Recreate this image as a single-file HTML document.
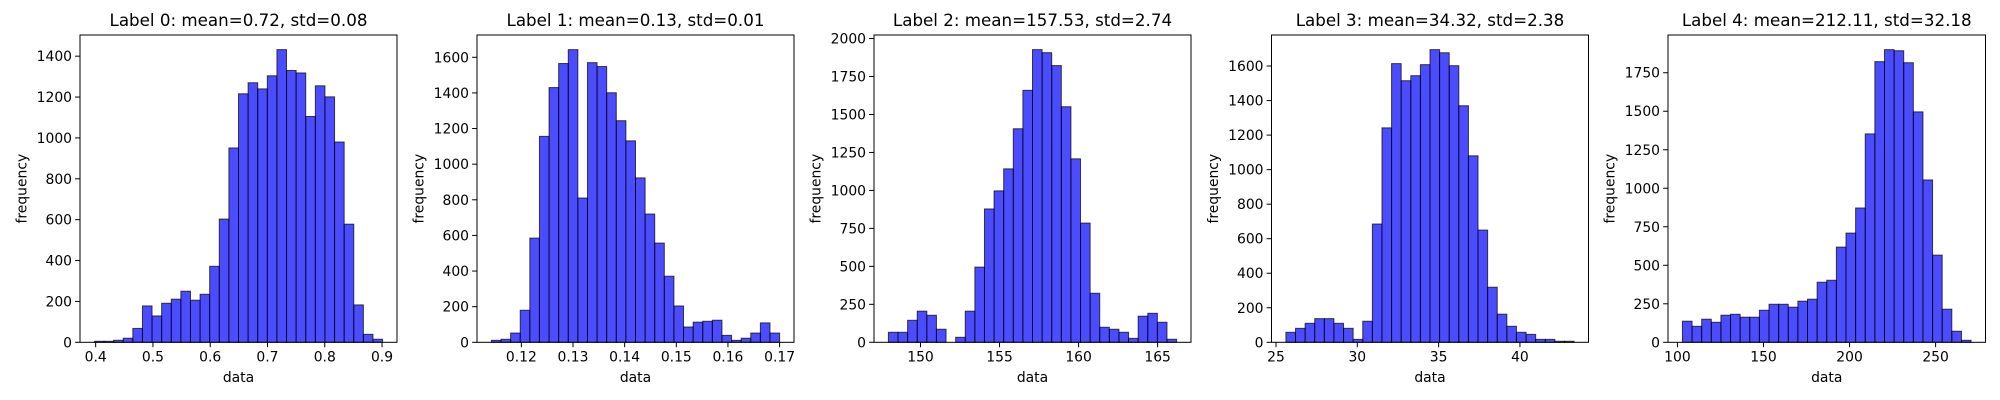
<!DOCTYPE html>
<html><head><meta charset="utf-8"><style>
html,body{margin:0;padding:0;background:#fff;}
svg{display:block;font-family:"DejaVu Sans","Liberation Sans",sans-serif;}
</style></head><body>
<svg id="chart" width="2000" height="400" viewBox="0 0 2000 400" xmlns="http://www.w3.org/2000/svg"></svg>
<script>
// Data arrays (bin counts, 30 bins each)
const titles = ["Label 0: mean=0.72, std=0.08","Label 1: mean=0.13, std=0.01","Label 2: mean=157.53, std=2.74","Label 3: mean=34.32, std=2.38","Label 4: mean=212.11, std=32.18"];
const counts0 = [5,5,10,20,68,178,129,191,211,250,206,235,372,603,951,1216,1270,1240,1304,1432,1330,1318,1105,1255,1201,980,578,183,39,15];
const counts1 = [11,17,52,180,585,1156,1430,1565,1643,810,1570,1548,1401,1244,1131,923,720,557,371,204,86,113,118,124,39,11,23,52,109,52];
const counts2 = [66,66,145,205,178,86,0,33,205,495,878,997,1142,1406,1659,1927,1907,1822,1551,1208,785,323,99,86,66,26,172,191,132,20];
const counts3 = [58,81,110,137,137,110,81,17,122,685,1242,1614,1515,1544,1608,1695,1677,1602,1370,1080,650,319,163,93,58,46,17,17,6,6];
const counts4 = [137,104,150,130,176,182,163,163,208,247,247,228,267,280,390,403,618,709,872,1353,1822,1900,1893,1815,1496,1054,566,215,72,13];
const dataMin = [0.3978,0.1142,147.97,25.61,102.9];
const dataMax = [0.901,0.170,166.2,43.33,270.6];
const xTicks0 = [0.4,0.5,0.6,0.7,0.8,0.9];
const xTicks1 = [0.12,0.13,0.14,0.15,0.16,0.17];
const xTicks2 = [150,155,160,165];
const xTicks3 = [25,30,35,40];
const xTicks4 = [100,150,200,250];
const yTicks0 = [0,200,400,600,800,1000,1200,1400];
const yTicks1 = [0,200,400,600,800,1000,1200,1400,1600];
const yTicks2 = [0,250,500,750,1000,1250,1500,1750,2000];
const yTicks3 = [0,200,400,600,800,1000,1200,1400,1600];
const yTicks4 = [0,250,500,750,1000,1250,1500,1750];

const allCounts=[counts0,counts1,counts2,counts3,counts4];
const allX=[xTicks0,xTicks1,xTicks2,xTicks3,xTicks4];
const allY=[yTicks0,yTicks1,yTicks2,yTicks3,yTicks4];
const boxes=[[80,397],[477,794],[874,1191],[1271.5,1588.5],[1668,1985.5]];
const TOP=35, BOT=342.3;
const NS="http://www.w3.org/2000/svg";
const svg=document.getElementById('chart');
function mk(tag,attrs,parent){const e=document.createElementNS(NS,tag);for(const k in attrs)e.setAttribute(k,attrs[k]);(parent||svg).appendChild(e);return e;}
function fmt(v,ticks){const s=ticks.some(t=>Math.abs(t-Math.round(t))>1e-9);if(!s)return String(v);const d=ticks.some(t=>Math.abs(t*10-Math.round(t*10))>1e-9)?2:1;return v.toFixed(d);}

for(let p=0;p<5;p++){
  const g=mk('g',{});
  
  
  const [L,R]=boxes[p];
  const c=allCounts[p], mn=dataMin[p], mx=dataMax[p], r=mx-mn;
  const x0=mn-0.05*r, x1=mx+0.05*r;
  const ymax=Math.max(...c)*1.05;
  const sx=v=>L+(v-x0)/(x1-x0)*(R-L);
  const sy=v=>BOT-v/ymax*(BOT-TOP);
  const bw=r/c.length;
  for(let i=0;i<c.length;i++){
    if(c[i]<=0)continue;
    const xa=sx(mn+i*bw), xb=sx(mn+(i+1)*bw);
    const b=mk('rect',{x:xa,y:sy(c[i]),width:xb-xa,height:BOT-sy(c[i]),fill:'#0000ff','fill-opacity':0.7,stroke:'#000','stroke-opacity':0.7,'stroke-width':1},g);
    
    
  }
  const frame=mk('rect',{x:L,y:TOP,width:R-L,height:BOT-TOP,fill:'none',stroke:'#000','stroke-width':1},g);
  
  
  allX[p].forEach(t=>{
    const x=sx(t);
    mk('line',{x1:x,y1:BOT,x2:x,y2:BOT+4.9,stroke:'#000','stroke-width':1},g);
    const tx=mk('text',{x:x,y:BOT+19,'font-size':13.9,'text-anchor':'middle',fill:'#000'},g);
    tx.textContent=fmt(t,allX[p]);
    
    
  });
  allY[p].forEach(t=>{
    const y=sy(t);
    mk('line',{x1:L-4.9,y1:y,x2:L,y2:y,stroke:'#000','stroke-width':1},g);
    const ty=mk('text',{x:L-8,y:y+5,'font-size':13.9,'text-anchor':'end',fill:'#000'},g);
    ty.textContent=String(t);
    
    
  });
  const ti=mk('text',{x:(L+R)/2,y:26,'font-size':16.7,'text-anchor':'middle',fill:'#000'},g);
  ti.textContent=titles[p];
  
  
  const xl=mk('text',{x:(L+R)/2,y:382,'font-size':13.9,'text-anchor':'middle',fill:'#000'},g);
  xl.textContent='data';
  
  
  const yw=Math.max(...allY[p].map(t=>String(t).length));
  const yx=L-8-yw*8.85-10;
  const yl=mk('text',{x:yx,y:(TOP+BOT)/2,'font-size':13.9,'text-anchor':'middle',fill:'#000',transform:`rotate(-90 ${yx} ${(TOP+BOT)/2})`},g);
  yl.textContent='frequency';
  
  
}
</script>
</body></html>
